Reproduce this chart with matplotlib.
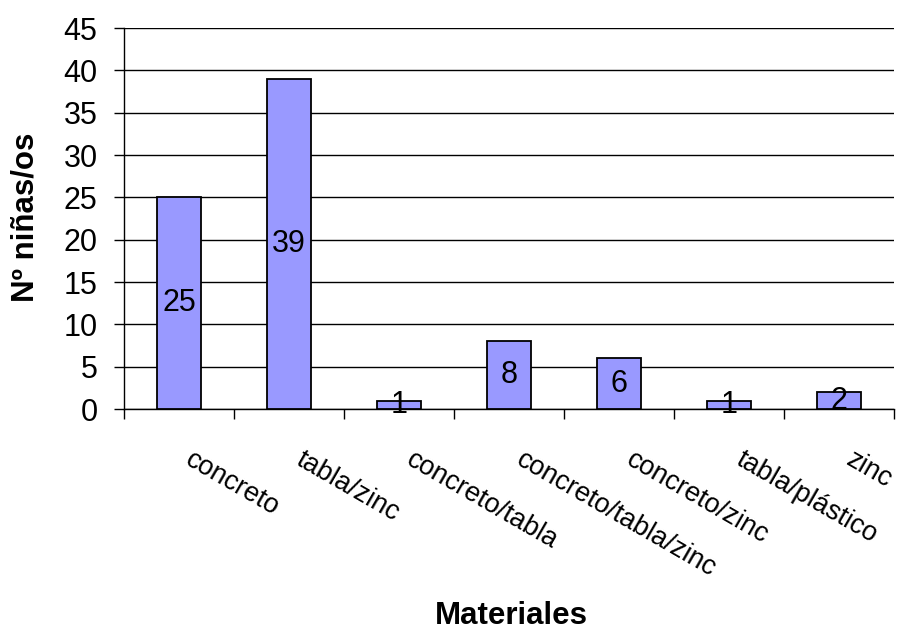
import numpy as np
import matplotlib
matplotlib.use("Agg")
import matplotlib.pyplot as plt

plt.rcParams['font.family'] = ['Liberation Sans', 'DejaVu Sans']

# Data
materiales = ['concreto', 'tabla/zinc', 'concreto/tabla', 'concreto/tabla/zinc',
              'concreto/zinc', 'tabla/plástico', 'zinc']
ninos = [25, 39, 1, 8, 6, 1, 2]
y_ticks = [0, 5, 10, 15, 20, 25, 30, 35, 40, 45]

fig = plt.figure(figsize=(8.97, 6.31), dpi=100)
ax = fig.add_axes([0.1382, 0.3518, 0.8585, 0.6038])

x = np.arange(len(materiales))
bars = ax.bar(x, ninos, width=0.4, color='#9999FF', edgecolor='black',
              linewidth=1.3, zorder=3)

# value labels centred inside each bar
for xi, v in zip(x, ninos):
    ax.text(xi, v / 2, str(v), ha='center', va='center', fontsize=22, zorder=4)

ax.set_xlim(-0.5, len(materiales) - 0.5)
ax.set_ylim(0, 45)
ax.set_yticks(y_ticks)
ax.tick_params(axis='y', labelsize=22, direction='out', length=7, width=1, pad=12)
ax.yaxis.grid(True, color='black', linewidth=1, zorder=0)

# category ticks sit on the boundaries between bars
ax.set_xticks(np.arange(len(materiales) + 1) - 0.5)
ax.set_xticklabels([])
ax.tick_params(axis='x', direction='out', length=7, width=1)
for xi, lab in zip(x, materiales):
    ax.text(xi + 0.14, -4.4, lab, rotation=-30, rotation_mode='anchor',
            ha='left', va='top', fontsize=19.5)

for s in ['top', 'right']:
    ax.spines[s].set_visible(False)
ax.spines['left'].set_linewidth(1)
ax.spines['bottom'].set_linewidth(1)

fig.text(0.028, 0.655, 'Nº niñas/os', rotation=90, ha='center', va='center',
         fontsize=22.5, fontweight='bold')
fig.text(0.570, 0.024, 'Materiales', ha='center', va='center',
         fontsize=22.5, fontweight='bold')

fig.savefig('out.png', dpi=100)
